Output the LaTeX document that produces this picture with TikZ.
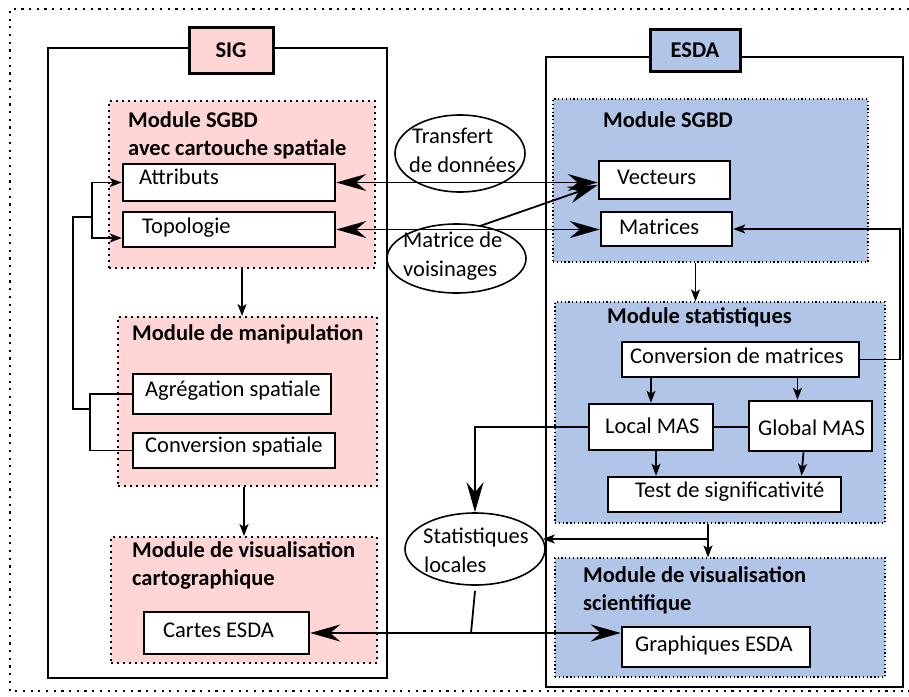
\documentclass[tikz,border=0pt]{standalone}
\usepackage{fontspec}
\setmainfont{Carlito}
\usetikzlibrary{arrows.meta,shapes.geometric}
\definecolor{pinkc}{RGB}{255,213,213}
\definecolor{bluec}{RGB}{176,197,232}
\tikzset{
  bh/.tip={Stealth[length=30pt,width=17pt,inset=10pt]},
  sh/.tip={Stealth[length=12pt,width=9pt,inset=3pt]},
  box/.style={draw, line width=2.5pt, fill=white, inner sep=0pt},
  ell/.style={draw, ellipse, line width=1.6pt, inner sep=0pt},
  pinkmod/.style={draw, fill=pinkc, line width=2pt, dash pattern=on 2pt off 4pt, inner sep=0pt},
  bluemod/.style={draw, fill=bluec, line width=1.3pt, dash pattern=on 1.3pt off 2.5pt, inner sep=0pt},
  outerbox/.style={draw, line width=2pt, inner sep=0pt},
  labbox/.style={draw, line width=3pt, inner sep=0pt, font=\fontsize{22.5}{27}\selectfont\bfseries},
  txt/.style={inner sep=0pt, anchor=base west},
  ttl/.style={inner sep=0pt, anchor=base west, font=\fontsize{22.5}{27}\selectfont\bfseries},
  conn/.style={line width=1.8pt},
}
\begin{document}
\begin{tikzpicture}[x=1pt,y=-1pt, font=\fontsize{22.5}{27}\selectfont]
\useasboundingbox[fill=white] (0,0) rectangle (909,696);
% outer dotted frame
\draw[line width=2.2pt, dash pattern=on 2.2pt off 5.5pt] (909,9) -- (10,9) -- (10,691) -- (909,691);

% SIG
\node[outerbox, minimum width=339pt, minimum height=630pt] (sigout) at (217.5,363) {};
\node[labbox, fill=pinkc, minimum width=84pt, minimum height=46pt] (sig) at (231,50) {SIG};

\node[pinkmod, minimum width=266pt, minimum height=167pt] (sgbd1) at (242,184.5) {};
\node[ttl] (sgbd1t) at (128,127) {Module SGBD};
\node[ttl] (sgbd1t2) at (128,155) {avec cartouche spatiale};
\node[box, minimum width=212pt, minimum height=37pt] (attr) at (229,182.5) {};
\node[txt] (attrt) at (139,184) {Attributs};
\node[box, minimum width=212pt, minimum height=35pt] (topo) at (229,229.5) {};
\node[txt] (topot) at (142,233) {Topologie};

\node[pinkmod, minimum width=259pt, minimum height=169pt] (manip) at (247.5,401.5) {};
\node[ttl] (manipt) at (132,340) {Module de manipulation};
\node[box, minimum width=198pt, minimum height=40pt] (agr) at (232,394) {};
\node[txt] (agrt) at (145,396) {Agrégation spatiale};
\node[box, minimum width=202pt, minimum height=35pt] (convsp) at (234,450.5) {};
\node[txt] (convspt) at (145,452) {Conversion spatiale};

\node[pinkmod, minimum width=266pt, minimum height=126pt] (viscart) at (244,600) {};
\node[ttl] (viscartt) at (132,557) {Module de visualisation};
\node[ttl] (viscartt2) at (132,585) {cartographique};
\node[box, minimum width=165pt, minimum height=42pt] (cartes) at (226.5,633) {};
\node[txt] (cartest) at (163,637) {Cartes ESDA};

% ESDA
\node[outerbox, minimum width=357pt, minimum height=630pt] (esdaout) at (724.5,372) {};
\node[labbox, fill=bluec, minimum width=90pt, minimum height=42pt] (esda) at (695,50) {ESDA};

\node[bluemod, minimum width=315pt, minimum height=163pt] (sgbd2) at (710.5,180.5) {};
\node[ttl] (sgbd2t) at (603,127) {Module SGBD};
\node[box, minimum width=131pt, minimum height=38pt] (vect) at (664.5,180) {};
\node[txt] (vectt) at (617,184) {Vecteurs};
\node[box, minimum width=131pt, minimum height=34pt] (matr) at (666.5,229) {};
\node[txt] (matrt) at (619,234) {Matrices};

\node[bluemod, minimum width=330pt, minimum height=221pt] (modstat) at (720,412.5) {};
\node[ttl] (modstatt) at (607,323) {Module statistiques};
\node[box, minimum width=237pt, minimum height=35pt] (convm) at (740.5,359.5) {};
\node[txt] (convmt) at (630,363) {Conversion de matrices};
\node[box, minimum width=124pt, minimum height=46pt] (loc) at (651,427) {};
\node[txt] (loct) at (605,433) {Local MAS};
\node[box, minimum width=123pt, minimum height=50pt] (glob) at (810.5,426) {};
\node[txt] (globt) at (758,435) {Global MAS};
\node[box, minimum width=233pt, minimum height=35pt] (test) at (724.5,494.5) {};
\node[txt] (testt) at (635,497) {Test de significativité};

\node[bluemod, minimum width=330pt, minimum height=119pt] (modsci) at (720,617.5) {};
\node[ttl] (modscit) at (583,582) {Module de visualisation};
\node[ttl] (modscit2) at (583,610) {scientifique};
\node[box, minimum width=188pt, minimum height=40pt] (graph) at (716,647) {};
\node[txt] (grapht) at (635,651) {Graphiques ESDA};

% ellipses
\node[ell, minimum width=130pt, minimum height=77pt] (transf) at (460,153.5) {};
\node[txt] (transft) at (412,143) {Transfert};
\node[txt] (transft2) at (409,172) {de données};
\node[ell, minimum width=139pt, minimum height=69pt] (mv) at (456.5,258.5) {};
\node[txt] (mvt) at (403,247) {Matrice de};
\node[txt] (mvt2) at (403,276) {voisinages};
\node[ell, minimum width=140pt, minimum height=72pt] (stat) at (475,549) {};
\node[txt] (statt) at (423,543) {Statistiques};
\node[txt] (statt2) at (424,572) {locales};

% connectors
\draw[conn, bh-bh] (attr.east) -- (attr.east -| vect.west);
\draw[conn, bh-bh] (topo.east) -- (topo.east -| matr.west);
\coordinate (mvs) at (480,226);
\draw[conn, -bh] (mvs) -- ([yshift=-5pt]vect.west);

\draw[conn, -sh] (convm.east) -- ++(40,0) |- (matr.east);

\draw[conn, -sh] (sgbd1.south) -- (sgbd1.south |- manip.north);
\draw[conn, -sh] (manip.south -| viscart.north) -- (viscart.north);

% bracket
\coordinate (cb1) at (90,420);
\coordinate (bl) at (90,409);
\coordinate (bm) at (73,409);
\coordinate (bt) at (73,217);
\coordinate (br) at (92,217);
\draw[conn] (agr.west) -| (cb1) |- (convsp.west);
\draw[conn] (bl) -- (bm) -- (bt) -- (br);
\draw[conn, -sh] (br) |- (attr.west);
\draw[conn, -sh] (br) |- ([yshift=-8.5pt]topo.west);

% ESDA internal
\draw[conn, -sh] ([xshift=-15pt]sgbd2.south) -- ([xshift=-15pt]sgbd2.south |- modstat.north);
\draw[conn, -sh] (loc.north |- convm.south) -- (loc.north);
\draw[conn, -sh] ([xshift=-13pt]glob.north |- convm.south) -- ([xshift=-13pt]glob.north);
\draw[conn, -sh] ([xshift=5pt]loc.south) -- ([xshift=5pt]loc.south |- test.north);
\draw[conn, -sh] ([xshift=-7pt]glob.south) -- ([xshift=-9pt]glob.south |- test.north);
\draw[conn] (loc.east) -- (loc.east -| glob.west);
\draw[conn, -bh] (loc.west) -| (stat.north);

\draw[conn, -sh] ([xshift=-12pt]modstat.south) -- ([xshift=-12pt]modsci.north);
\coordinate (jn) at (708,539);
\draw[conn, -sh] (jn) -- ([xshift=-3pt]stat.east |- jn);

\draw[conn, bh-bh] (cartes.east) -- (cartes.east -| graph.west);
\coordinate (sj) at (471,633);
\draw[conn] ([yshift=-5pt]stat.south) -- (sj);
\end{tikzpicture}
\end{document}
